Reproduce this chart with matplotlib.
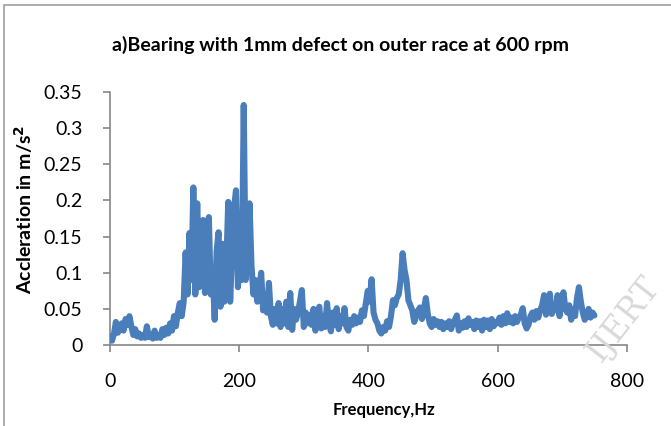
import matplotlib
matplotlib.use("Agg")
import matplotlib.pyplot as plt
import numpy as np
from matplotlib.patches import Rectangle

# frequency grid (Hz), 3 Hz steps
freq = np.arange(0, 753, 3)

# acceleration (m/s^2), 10 values per 30 Hz
accel = [
    0.012, 0.006, 0.015, 0.032, 0.017, 0.022, 0.030, 0.020, 0.036, 0.028, 0.040,
    0.026, 0.014, 0.022, 0.012, 0.016, 0.010, 0.014, 0.010, 0.026, 0.011,
    0.015, 0.009, 0.020, 0.010, 0.014, 0.010, 0.022, 0.014, 0.024, 0.016,
    0.030, 0.020, 0.040, 0.026, 0.045, 0.058, 0.040, 0.060, 0.128, 0.070,
    0.155, 0.090, 0.218, 0.070, 0.196, 0.080, 0.110, 0.173, 0.072, 0.120,
    0.177, 0.070, 0.100, 0.035, 0.130, 0.156, 0.053, 0.140, 0.060, 0.110,
    0.198, 0.060, 0.130, 0.190, 0.214, 0.080, 0.120, 0.090, 0.332, 0.090,
    0.130, 0.196, 0.110, 0.070, 0.090, 0.060, 0.075, 0.100, 0.048, 0.070,
    0.045, 0.086, 0.040, 0.028, 0.050, 0.030, 0.058, 0.025, 0.050, 0.030,
    0.060, 0.025, 0.072, 0.021, 0.050, 0.035, 0.045, 0.060, 0.076, 0.025,
    0.045, 0.030, 0.042, 0.028, 0.050, 0.020, 0.040, 0.053, 0.023, 0.040,
    0.025, 0.058, 0.030, 0.019, 0.045, 0.028, 0.051, 0.022, 0.040, 0.030,
    0.051, 0.025, 0.020, 0.035, 0.028, 0.040, 0.030, 0.038, 0.032, 0.048,
    0.040, 0.058, 0.075, 0.060, 0.091, 0.045, 0.035, 0.030, 0.020, 0.016,
    0.025, 0.020, 0.033, 0.025, 0.040, 0.062, 0.055, 0.065, 0.070, 0.090,
    0.127, 0.104, 0.090, 0.062, 0.055, 0.048, 0.032, 0.040, 0.048, 0.052,
    0.036, 0.050, 0.065, 0.043, 0.030, 0.025, 0.036, 0.028, 0.033, 0.025,
    0.032, 0.022, 0.030, 0.025, 0.033, 0.022, 0.030, 0.035, 0.041, 0.020,
    0.030, 0.024, 0.033, 0.025, 0.037, 0.028, 0.032, 0.022, 0.034, 0.025,
    0.033, 0.020, 0.035, 0.025, 0.034, 0.022, 0.036, 0.026, 0.032, 0.030,
    0.038, 0.028, 0.040, 0.030, 0.044, 0.032, 0.038, 0.030, 0.040, 0.032,
    0.038, 0.042, 0.051, 0.030, 0.023, 0.028, 0.040, 0.045, 0.035, 0.047,
    0.038, 0.048, 0.055, 0.069, 0.042, 0.050, 0.071, 0.043, 0.055, 0.048,
    0.069, 0.040, 0.060, 0.073, 0.050, 0.045, 0.055, 0.035, 0.050, 0.040,
    0.065, 0.080, 0.060, 0.045, 0.035, 0.040, 0.050, 0.038, 0.045, 0.041,
]

x_ticks = [0, 200, 400, 600, 800]
y_ticks = [0, 0.05, 0.1, 0.15, 0.2, 0.25, 0.3, 0.35]
y_ticklabels = ["0", "0.05", "0.1", "0.15", "0.2", "0.25", "0.3", "0.35"]

TITLE = "a)Bearing with 1mm defect on outer race at 600 rpm"
LINE_COLOR = "#4a7ebb"
AXIS_GREY = "#868686"

plt.rcParams["font.family"] = ["Lato", "DejaVu Sans"]

fig = plt.figure(figsize=(6.71, 4.26), dpi=100)
ax = fig.add_axes([0.164, 0.190, 0.770, 0.594])

ax.plot(freq, accel, color=LINE_COLOR, lw=4.4, solid_joinstyle="round",
        solid_capstyle="round", zorder=3)

ax.set_xlim(0, 800)
ax.set_ylim(0, 0.35)
ax.set_xticks(x_ticks)
ax.set_yticks(y_ticks)
ax.set_yticklabels(y_ticklabels)
ax.tick_params(axis="both", labelsize=14, direction="out", length=5,
               color=AXIS_GREY, width=1.2)
ax.tick_params(axis="x", pad=15)
ax.tick_params(axis="y", pad=15)
for side in ("top", "right"):
    ax.spines[side].set_visible(False)
for side in ("left", "bottom"):
    ax.spines[side].set_color(AXIS_GREY)
    ax.spines[side].set_linewidth(1.2)

ax.set_xlabel("Frequency,Hz", fontsize=12, fontweight="bold", va="center")
ax.xaxis.set_label_coords(0.53, -0.257)
ax.set_ylabel("Accleration in m/s$^\\mathbf{2}$", fontsize=14,
              fontweight="bold", va="center")
ax.yaxis.set_label_coords(-0.168, 0.537)
fig.text(0.507, 0.894, TITLE, ha="center", va="center", fontsize=14,
         fontweight="bold")

# chart-area border (only top and left edge fall inside the image)
fig.patches.append(Rectangle((0.006, -0.1), 1.2, 1.088,
                             transform=fig.transFigure, fill=False,
                             edgecolor="#a0a0a0", lw=1.2))

# faint watermark at lower right
fig.text(0.93, 0.25, "IJERT", rotation=52, fontsize=24, family="serif",
         color="#d9d9d9", ha="center", va="center", zorder=0)

fig.savefig("out.png", dpi=100, facecolor="white")
